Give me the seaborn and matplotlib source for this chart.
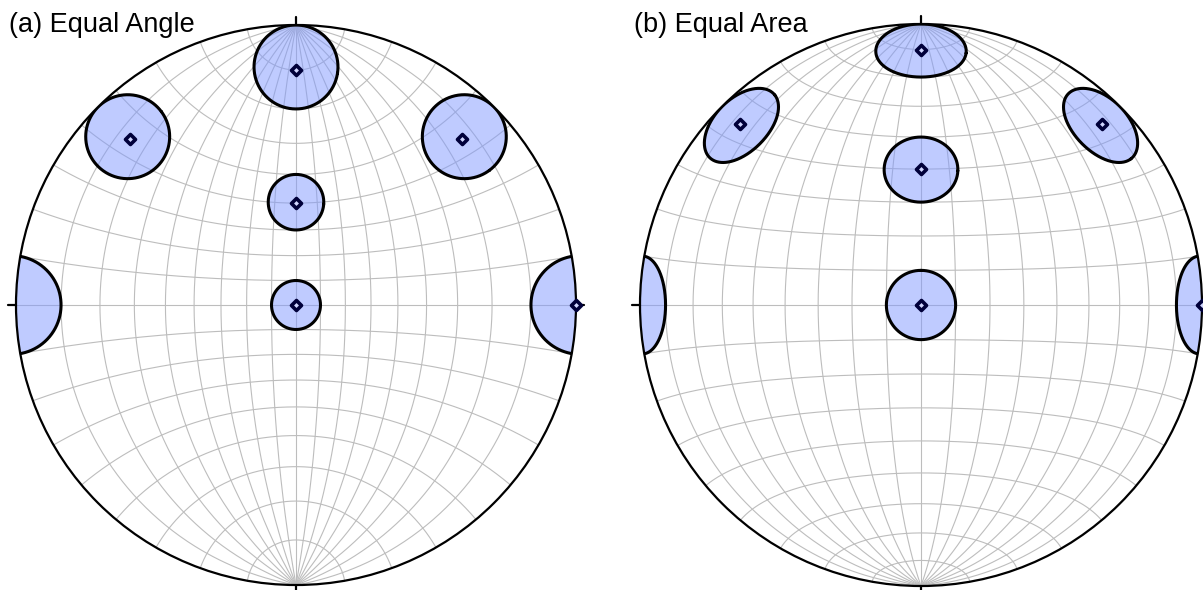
import numpy as np
import pandas as pd
import matplotlib
matplotlib.use("Agg")
import matplotlib.pyplot as plt
import seaborn as sns
from matplotlib.patches import Circle

# Cone axes (trend / plunge in degrees) and half-apex angle of every cone
cone_trends = [0, 0, 0, 315, 45, 90]
cone_plunges = [90, 50, 10, 10, 10, 0]
cone_angle = 10

# Net spacing (degrees)
grid_step = 10

panel_titles = ["(a) Equal Angle", "(b) Equal Area"]
panel_kinds = ["angle", "area"]

sns.set_style("white")
plt.rcParams["font.family"] = ["Liberation Sans", "DejaVu Sans"]
plt.rcParams["text.color"] = "black"


def line_to_vec(trend, plunge):
    t, p = np.radians(trend), np.radians(plunge)
    return np.array([np.cos(p) * np.sin(t), np.cos(p) * np.cos(t), np.sin(p)])


def project(x, y, z, kind):
    d = (1.0 + z) if kind == "angle" else np.sqrt(1.0 + z)
    return x / d, y / d


def net_frame(kind):
    rows = []
    t = np.linspace(0, np.pi, 361)
    lid = 0
    # great circles through N and S
    for phi in np.arange(grid_step, 180, grid_step):
        f = np.radians(phi)
        x = np.sin(t) * np.cos(f)
        y = np.cos(t)
        z = np.sin(t) * np.sin(f)
        px, py = project(x, y, z, kind)
        rows.append(pd.DataFrame({"x": px, "y": py, "line": lid}))
        lid += 1
    # small circles about the N-S axis
    for beta in np.arange(grid_step, 180, grid_step):
        b = np.radians(beta)
        x = np.sin(b) * np.cos(t)
        y = np.full_like(t, np.cos(b))
        z = np.sin(b) * np.sin(t)
        px, py = project(x, y, z, kind)
        rows.append(pd.DataFrame({"x": px, "y": py, "line": lid}))
        lid += 1
    return pd.concat(rows, ignore_index=True)


def cone_ring(axis, angle):
    a = axis / np.linalg.norm(axis)
    ref = np.array([0.0, 0.0, 1.0]) if abs(a[2]) < 0.9 else np.array([1.0, 0.0, 0.0])
    u = np.cross(a, ref)
    u /= np.linalg.norm(u)
    w = np.cross(a, u)
    s = np.linspace(0, 2 * np.pi, 721)
    al = np.radians(angle)
    v = (np.cos(al) * a[:, None]
         + np.sin(al) * (np.cos(s)[None, :] * u[:, None] + np.sin(s)[None, :] * w[:, None]))
    return v


fig = plt.figure(figsize=(12.03, 5.90), dpi=100)
W, H = 1203, 590
panels = [(296, 305, 280), (921, 305, 281)]

for (cx, cy, R), kind, title in zip(panels, panel_kinds, panel_titles):
    ax = fig.add_axes([(cx - R) / W, (H - cy - R) / H, 2 * R / W, 2 * R / H])
    ax.set_xlim(-1, 1)
    ax.set_ylim(-1, 1)
    ax.set_aspect("equal")
    ax.axis("off")

    clip = Circle((0, 0), 1, transform=ax.transData, fill=False)

    grid = net_frame(kind)
    sns.lineplot(data=grid, x="x", y="y", units="line", estimator=None, sort=False,
                 color="#bdbdbd", lw=0.8, ax=ax, legend=False)
    for ln in ax.lines:
        ln.set_clip_path(clip)

    mx, my = [], []
    for tr, pl in zip(cone_trends, cone_plunges):
        axis = line_to_vec(tr, pl)
        for sgn in (1, -1):
            ring = cone_ring(sgn * axis, cone_angle)
            if ring[2].max() <= 1e-9:
                continue
            px, py = project(ring[0], ring[1], ring[2], kind)
            fills = ax.fill(px, py, facecolor=(0.5, 0.6, 1.0), alpha=0.5, edgecolor="none", zorder=3)
            edges = ax.plot(px, py, color="black", lw=2.2, zorder=4)
            for art in fills + edges:
                art.set_clip_path(clip)
        ax_x, ax_y = project(*axis, kind)
        mx.append(ax_x)
        my.append(ax_y)

    ax.add_patch(Circle((0, 0), 1, fill=False, edgecolor="black", lw=1.6, zorder=5, clip_on=False))
    tick = 0.028
    for dx, dy in [(0, 1), (1, 0), (0, -1), (-1, 0)]:
        ax.plot([dx, dx * (1 + tick)], [dy, dy * (1 + tick)], color="black", lw=1.6,
                zorder=5, clip_on=False)

    sns.scatterplot(x=mx, y=my, marker="D", s=26, color="#d0d6ff", edgecolor="#00003a",
                    linewidth=2.6, zorder=6, ax=ax, legend=False, clip_on=False)

fig.text(9 / W, 1 - 32 / H, panel_titles[0], fontsize=19.5, va="baseline", ha="left", color="black")
fig.text(634 / W, 1 - 32 / H, panel_titles[1], fontsize=19.5, va="baseline", ha="left", color="black")

fig.savefig("out.png", dpi=100)
